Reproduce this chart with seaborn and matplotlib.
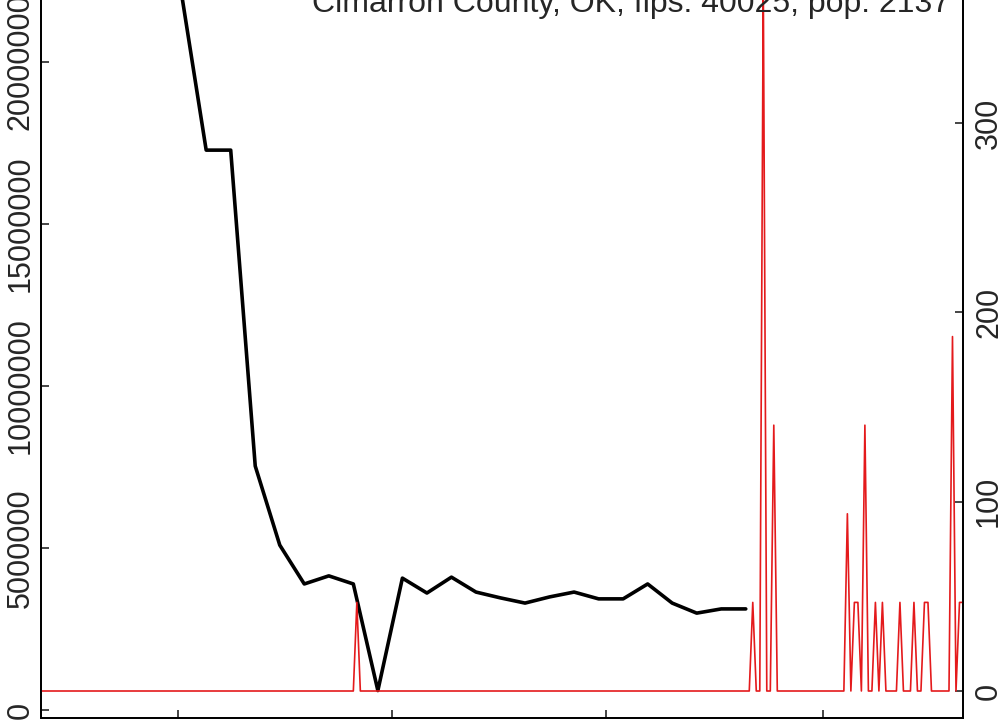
"""
County plot: weekly total (black, left axis) and daily cases per 100k (red, right axis).
"""

import matplotlib
matplotlib.use("Agg")  # no display in the sandbox
import matplotlib.dates as mdates
import matplotlib.pyplot as plt
import numpy as np
import pandas as pd
import seaborn as sns

TITLE = "Cimarron County, OK, fips: 40025, pop: 2137"

# daily series runs from the first day of the data to the last
START_DATE = "2020-01-22"
N_DAYS = 264

# weekly series (black)
weekly_start = "2020-03-02"
weekly_values = [
    22080000, 17280000, 17280000, 7530000, 5090000, 3890000,
    4140000, 3890000, 600000, 4070000, 3610000, 4100000,
    3640000, 3460000, 3300000, 3490000, 3640000, 3430000,
    3430000, 3890000, 3300000, 2990000, 3120000, 3120000,
]

# daily rate per 100k (red): zero except on these days
spike_days = [
    "2020-04-21", "2020-08-12", "2020-08-15", "2020-08-18", "2020-09-08",
    "2020-09-10", "2020-09-11", "2020-09-13", "2020-09-16", "2020-09-18",
    "2020-09-23", "2020-09-27", "2020-09-30", "2020-10-01", "2020-10-08",
    "2020-10-10", "2020-10-11",
]
spike_rates = [
    46.8, 46.8, 374.4, 140.4, 93.6,
    46.8, 46.8, 140.4, 46.8, 46.8,
    46.8, 46.8, 46.8, 46.8, 187.2,
    46.8, 46.8,
]

left_ticks = [0, 5000000, 10000000, 15000000, 20000000]
right_ticks = [0, 100, 200, 300]

# build the two frames
weekly = pd.DataFrame({
    "date": pd.date_range(weekly_start, periods=len(weekly_values), freq="7D"),
    "value": weekly_values,
})
daily = pd.DataFrame({"date": pd.date_range(START_DATE, periods=N_DAYS, freq="D")})
daily["rate"] = 0.0
daily = daily.set_index("date")
daily.loc[pd.to_datetime(spike_days), "rate"] = spike_rates
daily = daily.reset_index()

sns.set_style("ticks")
plt.rcParams["font.family"] = ["Liberation Sans", "DejaVu Sans"]

W, H = 1003, 721
fig = plt.figure(figsize=(W / 100, H / 100), dpi=100)
# the top of the frame sits above the picture, as in the cropped original
ax = fig.add_axes([41.5 / W, 3 / H, (963 - 41.5) / W, 768 / H])

sns.lineplot(data=weekly, x="date", y="value", ax=ax, color="black", lw=2.6)
ax.set_ylim(-246914, 23456790)
ax.set_xlim(daily["date"].iloc[0], daily["date"].iloc[-1])

ax2 = ax.twinx()
sns.lineplot(data=daily, x="date", y="rate", ax=ax2, color="#E41A1C", lw=1.2)
ax2.set_ylim(-14.26, 391.4)
ax2.set_xlim(daily["date"].iloc[0], daily["date"].iloc[-1])

for a in (ax, ax2):
    a.set_xlabel("")
    a.set_ylabel("")
    for sp in a.spines.values():
        sp.set_visible(True)
        sp.set_linewidth(1.3)
        sp.set_color("black")

ax.xaxis.set_major_locator(mdates.MonthLocator(bymonth=[1, 3, 5, 7, 9, 11]))
ax.tick_params(axis="x", direction="in", length=6, width=1.2, labelbottom=False)

ax.set_yticks(left_ticks)
ax.set_yticklabels([str(v) for v in left_ticks], rotation=90, va="center")
ax.tick_params(axis="y", direction="in", length=6, width=1.2, labelsize=22, pad=4)

ax2.set_yticks(right_ticks)
ax2.set_yticklabels([str(v) for v in right_ticks], rotation=90, va="center")
ax2.tick_params(axis="y", direction="in", length=6, width=1.2, labelsize=22, pad=8)

fig.text(950 / W, 1 - 12 / H, TITLE, ha="right", va="baseline", fontsize=23)

fig.savefig("out.png", dpi=100)
plt.close(fig)
